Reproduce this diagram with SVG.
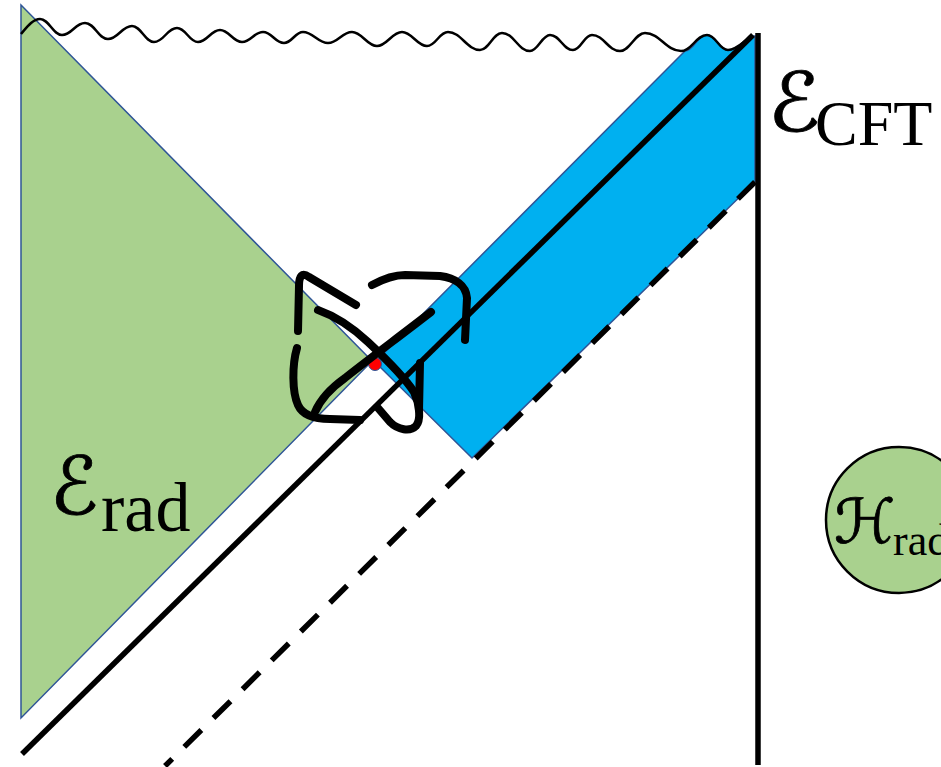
<svg xmlns="http://www.w3.org/2000/svg" width="941" height="767" viewBox="0 0 941 767">
<style>
.region{stroke:#2F5597;stroke-width:1.5;stroke-linejoin:miter}
.green{fill:#A9D18E}
.blue{fill:#00B0F0}
.line{fill:none;stroke:#000;stroke-width:5.5}
.knot{fill:none;stroke:#000;stroke-width:8;stroke-linecap:round;stroke-linejoin:round}
.cal{font-style:italic;fill:#000;stroke:#000;stroke-width:0.8}
.rm{fill:#000}
</style>
<rect width="941" height="767" fill="#fff"/>
<g id="radiation-region">
<path class="region green" d="M21,5 L372,361 L21,718 Z"/>
</g>
<g id="cft-region">
<path class="region blue" d="M375,362 L685,51 C694,51 697,35 707,35 C716,35 719,50 728,50 C737,50 745,40 752,36 L755,36 L755,182 L472,458 Z"/>
</g>
<g id="point">
<circle cx="375" cy="364" r="6.5" fill="#FF0000" stroke="#2F5597" stroke-width="1"/>
</g>
<g id="connectors">
<path class="line" d="M22,754 L753,35"/>
<path class="line" d="M755,182 L165,766" stroke-width="6" stroke-dasharray="24 17"/>
<path class="line" d="M758,33 L758,765" stroke-width="5"/>
<path id="singularity" fill="none" stroke="#000" stroke-width="2.5" d="M21,34 C27,27 33,19 40,19 C49,19 53,35 62,35 C72,35 75,23 85,23 C95,23 98,39 108,39 C118,39 122,26 132,26 C141,26 145,42 154,42 C164,42 167,28 177,28 C186,28 189,42 198,42 C207,42 211,30 220,30 C229,30 233,42 242,42 C251,42 254,32 263,32 C272,32 275,43 284,43 C292,43 295,32 303,32 C313,32 318,43 328,43 C338,43 342,32 352,32 C362,32 367,46 377,46 C387,46 392,32 402,32 C412,32 417,46 427,46 C436,46 439,32 448,32 C461,32 467,50 480,50 C489,50 493,33 502,33 C514,33 518,51 530,51 C538,51 542,35 550,35 C560,35 563,50 573,50 C581,50 584,35 592,35 C604,35 608,51 620,51 C630,51 635,33 645,33 C660,33 666,51 681,51 C692,51 696,35 707,35 C716,35 719,50 728,50 C737,50 745,40 752,36"/>
</g>
<g id="scribble">
<path class="knot" d="M298,331 L299,286 C299,276 302,272 309,277 L356,305"/>
<path class="knot" d="M297,348 C292,365 292,392 298,405 C303,416 315,419 330,419 L360,420"/>
<path class="knot" d="M315,412 C321,398 331,388 345,378 C365,362 400,336 431,312"/>
<path class="knot" d="M318,310 C335,316 352,327 368,342 C385,358 405,378 414,392 C420,405 421,420 416,426 C410,432 398,430 390,422 L378,408"/>
<path class="knot" d="M420,363 L419,410"/>
<path class="knot" d="M372,285 C385,278 395,275 405,275 L440,276 C455,278 466,285 467,298 L465,340"/>
</g>
<g id="label-cft">
<text class="cal" transform="translate(768,131) scale(1.06,1)" font-size="82" font-family="DejaVu Serif, DejaVu Sans, serif">ℰ</text>
<text class="rm" x="815" y="145" font-size="64" font-family="Liberation Serif, serif">CFT</text>
</g>
<g id="label-rad">
<text class="cal" x="50" y="514" font-size="80" font-family="DejaVu Serif, DejaVu Sans, serif">ℰ</text>
<text class="rm" x="101" y="531" font-size="70" font-family="Liberation Serif, serif">rad</text>
</g>
<g id="hilbert-rad">
<circle cx="899" cy="520" r="73" fill="#A9D18E" stroke="#000" stroke-width="2.5"/>
<text class="cal" x="834" y="543" font-size="62" font-family="DejaVu Serif, DejaVu Sans, serif">ℋ</text>
<text class="rm" x="893" y="555" font-size="44" font-family="Liberation Serif, serif">rad</text>
</g>
</svg>
